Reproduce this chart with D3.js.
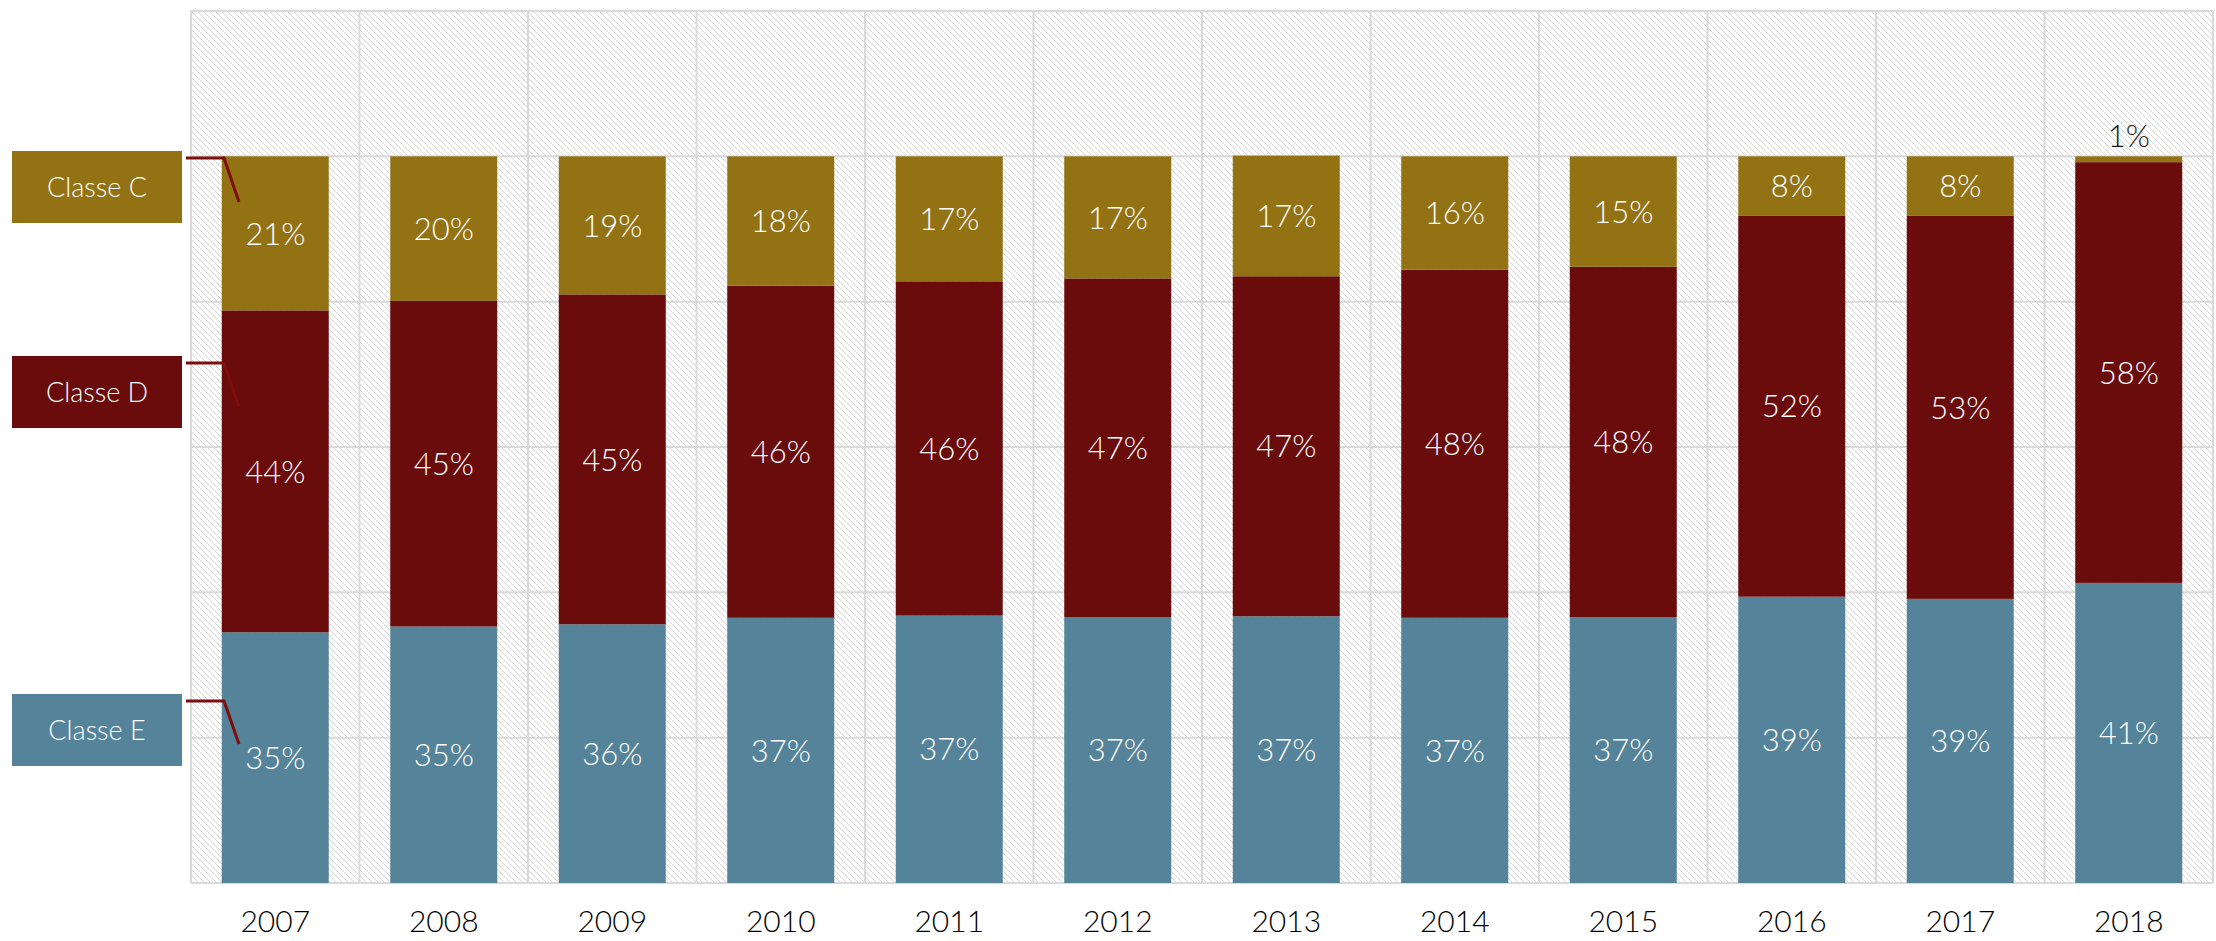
<!DOCTYPE html>
<html>
<head>
<meta charset="utf-8">
<script src="https://cdn.jsdelivr.net/npm/d3@7"></script>
<style>
  body { margin: 0; background: #fff; }
  svg { display: block; }
</style>
</head>
<body>
<script>
// Years on the x axis
var years = ["2007", "2008", "2009", "2010", "2011", "2012", "2013", "2014", "2015", "2016", "2017", "2018"];

// Share of each class per year (%)
var classeE = [34.5, 35.3, 35.6, 36.5, 36.8, 36.6, 36.7, 36.5, 36.6, 39.4, 39.1, 41.3];
var classeD = [44.3, 44.8, 45.4, 45.7, 46.0, 46.6, 46.8, 47.9, 48.2, 52.4, 52.7, 57.9];
var classeC = [21.2, 19.9, 19.0, 17.8, 17.2, 16.8, 16.6, 15.6, 15.2, 8.2, 8.2, 0.8];

var seriesNames = ["Classe E", "Classe D", "Classe C"];
var yTicks = [0, 20, 40, 60, 80, 100, 120];

var colors = { "Classe C": "#937214", "Classe D": "#6a0c0c", "Classe E": "#558399" };
var font = "Lato, 'Open Sans', sans-serif";

var W = 2216, H = 941;
var plot = { left: 191, right: 2213, top: 11, bottom: 883 };

// Build rows for the stack
var rows = years.map(function(y, i) {
    return { year: y, "Classe E": classeE[i], "Classe D": classeD[i], "Classe C": classeC[i] };
});

var svg = d3.select("body")
    .append("svg")
    .attr("width", W)
    .attr("height", H);

// Hatched background pattern
var defs = svg.append("defs");
defs.append("pattern")
    .attr("id", "hatch")
    .attr("patternUnits", "userSpaceOnUse")
    .attr("width", 6)
    .attr("height", 6)
    .append("path")
    .attr("d", "M-1,-1L7,7M5,-1L7,1M-1,5L1,7")
    .attr("stroke", "#d6d6d6")
    .attr("stroke-width", 1);

var xScale = d3.scaleBand()
    .domain(years)
    .range([plot.left, plot.right])
    .paddingInner(0.365)
    .paddingOuter(0.1825);

var yScale = d3.scaleLinear()
    .domain([0, 120])
    .range([plot.bottom, plot.top]);

// Plot background
svg.append("rect")
    .attr("x", plot.left)
    .attr("y", plot.top)
    .attr("width", plot.right - plot.left)
    .attr("height", plot.bottom - plot.top)
    .attr("fill", "url(#hatch)");

// Horizontal gridlines
svg.append("g")
    .selectAll("line")
    .data(yTicks)
    .enter().append("line")
    .attr("x1", plot.left)
    .attr("x2", plot.right)
    .attr("y1", function(d) { return yScale(d); })
    .attr("y2", function(d) { return yScale(d); })
    .attr("stroke", "#d9d9d9")
    .attr("stroke-width", 2);

// Vertical gridlines at category boundaries
var step = xScale.step();
var bounds = d3.range(years.length + 1).map(function(i) { return plot.left + i * step; });
svg.append("g")
    .selectAll("line")
    .data(bounds)
    .enter().append("line")
    .attr("x1", function(d) { return d; })
    .attr("x2", function(d) { return d; })
    .attr("y1", plot.top)
    .attr("y2", plot.bottom)
    .attr("stroke", "#d9d9d9")
    .attr("stroke-width", 2);

// Stacked bars
var stacked = d3.stack().keys(seriesNames)(rows);

var layers = svg.append("g")
    .selectAll("g")
    .data(stacked)
    .enter().append("g")
    .attr("fill", function(d) { return colors[d.key]; });

layers.selectAll("rect")
    .data(function(d) { return d; })
    .enter().append("rect")
    .attr("x", function(d) { return xScale(d.data.year); })
    .attr("width", xScale.bandwidth())
    .attr("y", function(d) { return yScale(d[1]); })
    .attr("height", function(d) { return yScale(d[0]) - yScale(d[1]); });

// Value labels
layers.selectAll("text")
    .data(function(d) { return d; })
    .enter().append("text")
    .attr("x", function(d) { return xScale(d.data.year) + xScale.bandwidth() / 2; })
    .attr("y", function(d) {
        var v = d[1] - d[0];
        if (v < 3) return yScale(d[1]) - 9;   // tiny segment: label sits above the bar
        return (yScale(d[0]) + yScale(d[1])) / 2;
    })
    .attr("dy", function(d) { return (d[1] - d[0]) < 3 ? "0" : "0.36em"; })
    .attr("text-anchor", "middle")
    .attr("font-family", font)
    .attr("font-weight", 300)
    .attr("font-size", 31)
    .attr("fill", function(d) { return (d[1] - d[0]) < 3 ? "#1a1a1a" : "#ffffff"; })
    .text(function(d) { return Math.round(d[1] - d[0]) + "%"; });

// X axis
var xAxis = svg.append("g")
    .attr("transform", "translate(0," + plot.bottom + ")")
    .call(d3.axisBottom(xScale).tickSize(0).tickPadding(28));
xAxis.select(".domain").remove();
xAxis.selectAll("text")
    .attr("font-family", font)
    .attr("font-weight", 300)
    .attr("font-size", 30)
    .attr("fill", "#000");

// Legend boxes on the left with connector lines into the first bar
var legend = [
    { name: "Classe C", top: 151, lineY: 158, endY: 202 },
    { name: "Classe D", top: 356, lineY: 363, endY: 407 },
    { name: "Classe E", top: 694, lineY: 701, endY: 744 }
];

var lg = svg.append("g")
    .selectAll("g")
    .data(legend)
    .enter().append("g");

lg.append("rect")
    .attr("x", 12)
    .attr("y", function(d) { return d.top; })
    .attr("width", 170)
    .attr("height", 72)
    .attr("fill", function(d) { return colors[d.name]; });

lg.append("text")
    .attr("x", 97)
    .attr("y", function(d) { return d.top + 36; })
    .attr("dy", "0.36em")
    .attr("text-anchor", "middle")
    .attr("font-family", font)
    .attr("font-weight", 300)
    .attr("font-size", 27)
    .attr("fill", "#fff")
    .text(function(d) { return d.name; });

lg.append("path")
    .attr("d", function(d) {
        return "M186," + d.lineY + "L224," + d.lineY + "L239," + d.endY;
    })
    .attr("fill", "none")
    .attr("stroke", "#800d0d")
    .attr("stroke-width", 3);
</script>
</body>
</html>
